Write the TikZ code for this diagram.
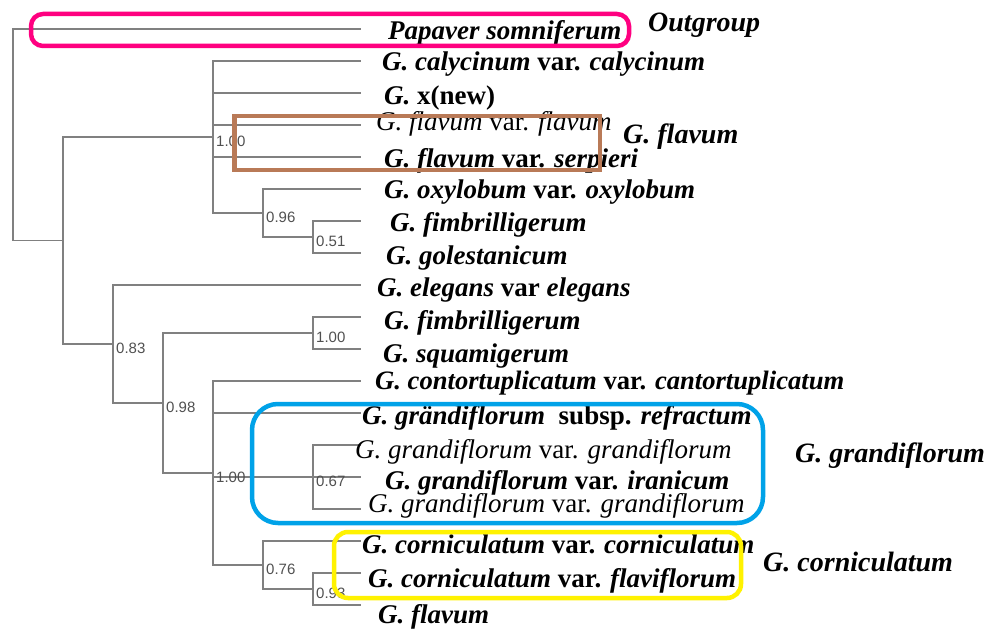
\documentclass[tikz,border=0pt]{standalone}
\usepackage{fontspec}
\setmainfont{Liberation Serif}
\newfontfamily\arialf{Liberation Sans}
\definecolor{treegray}{RGB}{128,128,128}
\definecolor{labgray}{RGB}{80,80,80}
\definecolor{pinkc}{RGB}{255,0,128}
\definecolor{brownc}{RGB}{185,122,87}
\definecolor{bluec}{RGB}{0,162,232}
\definecolor{yellowc}{RGB}{255,242,0}
\tikzset{
  branch/.style={draw=treegray, line width=1.5pt},
  leaflab/.style={anchor=base west, inner sep=0pt, font=\fontsize{27}{30}\selectfont},
  grouplab/.style={anchor=base west, inner sep=0pt, font=\fontsize{28}{30}\selectfont\bfseries\itshape},
  support/.style={anchor=west, inner sep=0pt, text=labgray, font=\arialf\fontsize{15}{16}\selectfont},
  cladebox/.style={line width=4.5pt},
}
\begin{document}
\begin{tikzpicture}[x=1pt,y=-1pt]
\useasboundingbox (0,0) rectangle (990,631);
% leaf tips
\foreach \k/\nm in {0/l0,1/l1,2/l2,3/l3,4/l4,5/l5,6/l6,7/l7,8/l8,9/l9,10/l10,11/l11,12/l12,13/l13,14/l14,15/l15,16/l16,17/l17,18/l18}
  \coordinate (\nm) at (361,{29+32*\k});
% internal nodes
\coordinate (nD) at (313,237);
\coordinate (nC) at (263,213);
\coordinate (nB) at (213,137);
\coordinate (nG) at (313,333);
\coordinate (nI) at (313,477);
\coordinate (nK) at (313,589);
\coordinate (nJ) at (263,565);
\coordinate (nH) at (213,473);
\coordinate (nF) at (163,403);
\coordinate (nE) at (113,344);
\coordinate (nA) at (63,240.5);
\coordinate (nR) at (13,134.75);
% branches
\draw[branch] (nR) |- (l0); \draw[branch] (nR) |- (nA);
\draw[branch] (nA) |- (nB); \draw[branch] (nA) |- (nE);
\foreach \c in {l1,l2,l3,l4,nC} \draw[branch] (nB) |- (\c);
\draw[branch] (nC) |- (l5); \draw[branch] (nC) |- (nD);
\draw[branch] (nD) |- (l6); \draw[branch] (nD) |- (l7);
\draw[branch] (nE) |- (l8); \draw[branch] (nE) |- (nF);
\draw[branch] (nF) |- (nG); \draw[branch] (nF) |- (nH);
\draw[branch] (nG) |- (l9); \draw[branch] (nG) |- (l10);
\foreach \c in {l11,l12,nI,nJ} \draw[branch] (nH) |- (\c);
\foreach \c in {l13,l14,l15} \draw[branch] (nI) |- (\c);
\draw[branch] (nJ) |- (l16); \draw[branch] (nJ) |- (nK);
\draw[branch] (nK) |- (l17); \draw[branch] (nK) |- (l18);
% support values
\node[support] (sB) at ([shift={(3,4)}]nB) {1.00};
\node[support] (sC) at ([shift={(3,4)}]nC) {0.96};
\node[support] (sD) at ([shift={(3,4)}]nD) {0.51};
\node[support] (sE) at ([shift={(3,4)}]nE) {0.83};
\node[support] (sF) at ([shift={(3,4)}]nF) {0.98};
\node[support] (sG) at ([shift={(3,4)}]nG) {1.00};
\node[support] (sH) at ([shift={(3,4)}]nH) {1.00};
\node[support] (sI) at ([shift={(3,4)}]nI) {0.67};
\node[support] (sJ) at ([shift={(3,4)}]nJ) {0.76};
\node[support] (sK) at ([shift={(3,4)}]nK) {0.93};
% leaf labels
\node[leaflab] (t0) at (388,40) {\bfseries\itshape Papaver somniferum};
\node[leaflab] (t1) at (382,71) {\bfseries\textit{G. calycinum} var. \textit{calycinum}};
\node[leaflab] (t2) at (384,105) {\bfseries\textit{G.} x(new)};
\node[leaflab] (t3) at (376,131) {\textit{G. flavum} var. \textit{flavum}};
\node[leaflab] (t4) at (384,168) {\bfseries\textit{G. flavum} var. \textit{serpieri}};
\node[leaflab] (t5) at (384,199) {\bfseries\textit{G. oxylobum} var. \textit{oxylobum}};
\node[leaflab] (t6) at (390,231) {\bfseries\itshape G. fimbrilligerum};
\node[leaflab] (t7) at (386,264) {\bfseries\itshape G. golestanicum};
\node[leaflab] (t8) at (377,296) {\bfseries\textit{G. elegans} var \textit{elegans}};
\node[leaflab] (t9) at (384,329) {\bfseries\itshape G. fimbrilligerum};
\node[leaflab] (t10) at (383,362) {\bfseries\itshape G. squamigerum};
\node[leaflab, font=\fontsize{26.6}{30}\selectfont] (t11) at (375,389) {\bfseries\textit{G. contortuplicatum} var. \textit{cantortuplicatum}};
\node[leaflab] (t12) at (362,424) {\bfseries\textit{G. grändiflorum}\ \ subsp. \textit{refractum}};
\node[leaflab] (t13) at (355,458) {\textit{G. grandiflorum} var. \textit{grandiflorum}};
\node[leaflab] (t14) at (385,489) {\bfseries\textit{G. grandiflorum} var. \textit{iranicum}};
\node[leaflab] (t15) at (368,512) {\textit{G. grandiflorum} var. \textit{grandiflorum}};
\node[leaflab] (t16) at (362,553) {\bfseries\textit{G. corniculatum} var. \textit{corniculatum}};
\node[leaflab] (t17) at (368,587) {\bfseries\textit{G. corniculatum} var. \textit{flaviflorum}};
\node[leaflab] (t18) at (378,623) {\bfseries\itshape G. flavum};
% group labels
\node[grouplab] (gOut) at (648,32) {Outgroup};
\node[grouplab] (gFl) at (623,144) {G. flavum};
\node[grouplab] (gGr) at (795,462) {G. grandiflorum};
\node[grouplab] (gCo) at (763,571) {G. corniculatum};
% clade boxes
\draw[cladebox, draw=pinkc, rounded corners=12pt] (31,14) rectangle (629,46);
\draw[cladebox, draw=brownc] (234.5,116) rectangle (600,170);
\draw[cladebox, draw=bluec, rounded corners=26pt] (252,404) rectangle (763,523);
\draw[cladebox, draw=yellowc, rounded corners=14pt] (334,532) rectangle (741,598);
\end{tikzpicture}
\end{document}
